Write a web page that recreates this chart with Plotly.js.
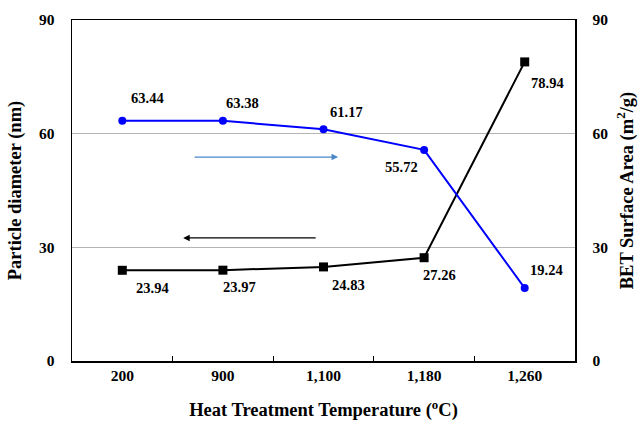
<!DOCTYPE html>
<html>
<head>
<meta charset="utf-8">
<script src="https://cdn.plot.ly/plotly-3.0.1.min.js"></script>
<style>html,body{margin:0;padding:0;background:#fff}#chart{width:638px;height:423px}</style>
</head>
<body>
<div id="chart"></div>
<script>
const categories = ["200", "900", "1,100", "1,180", "1,260"];
const particleDiameter = [23.94, 23.97, 24.83, 27.26, 78.94];
const betSurfaceArea = [63.44, 63.38, 61.17, 55.72, 19.24];
const yTicks = [0, 30, 60, 90];

// label offsets (px) for each point
const diamShift = [[30, -18], [17, -17], [25, -18], [15, -17], [23, -21]];
const betShift = [[25, 23], [20, 18], [23, 17], [-23, -17], [22, 18]];

const font = "Liberation Serif, Times New Roman, serif";

const traces = [
  {
    x: categories, y: particleDiameter, type: "scatter", mode: "lines+markers",
    line: {color: "#000000", width: 2}, marker: {symbol: "square", size: 9, color: "#000000"},
    yaxis: "y", hoverinfo: "skip"
  },
  {
    x: categories, y: betSurfaceArea, type: "scatter", mode: "lines+markers",
    line: {color: "#0000ff", width: 2}, marker: {symbol: "circle", size: 8, color: "#0000ff"},
    yaxis: "y2", hoverinfo: "skip"
  }
];

const annotations = [];
categories.forEach((c, i) => {
  annotations.push({
    x: i, y: particleDiameter[i], xref: "x", yref: "y", text: "<b>" + particleDiameter[i].toFixed(2) + "</b>",
    showarrow: false, xshift: diamShift[i][0], yshift: diamShift[i][1],
    font: {family: font, size: 14.5, color: "#000"}
  });
  annotations.push({
    x: i, y: betSurfaceArea[i], xref: "x", yref: "y2", text: "<b>" + betSurfaceArea[i].toFixed(2) + "</b>",
    showarrow: false, xshift: betShift[i][0], yshift: betShift[i][1],
    font: {family: font, size: 14.5, color: "#000"}
  });
});
// direction arrows
annotations.push({
  xref: "paper", yref: "paper", x: 0.529, y: 0.598, ax: -145, ay: 0, text: "",
  showarrow: true, arrowhead: 2, arrowsize: 1, arrowwidth: 1.3, arrowcolor: "#4a86c8"
});
annotations.push({
  xref: "paper", yref: "paper", x: 0.221, y: 0.361, ax: 134, ay: 0, text: "",
  showarrow: true, arrowhead: 2, arrowsize: 1, arrowwidth: 1.3, arrowcolor: "#000000"
});

const tickFont = {family: font, size: 15.5, color: "#000"};
const layout = {
  width: 638, height: 423,
  margin: {l: 72, r: 63, t: 20, b: 62},
  paper_bgcolor: "#fff", plot_bgcolor: "#fff",
  showlegend: false,
  font: {family: font, color: "#000"},
  xaxis: {
    type: "category", tickson: "boundaries", ticks: "inside", ticklen: 5, tickcolor: "#000",
    showline: true, linecolor: "#000", linewidth: 1.5, mirror: true, showgrid: false,
    tickfont: tickFont, range: [-0.5, 4.5],
    tickvals: categories, ticktext: categories.map(c => "<b>" + c + "</b>"),
    title: {text: "<b>Heat Treatment Temperature (<sup>o</sup>C)</b>", font: {family: font, size: 18.5}, standoff: 20}
  },
  yaxis: {
    range: [0, 90], tickvals: yTicks, ticktext: yTicks.map(v => "<b>" + v + "</b>"),
    ticks: "outside", ticklen: 13, tickcolor: "rgba(0,0,0,0)",
    showline: true, linecolor: "#000", linewidth: 1.5, showgrid: true, gridcolor: "#b4b4b4", gridwidth: 1,
    zeroline: false, tickfont: tickFont,
    title: {text: "<b>Particle diameter (nm)</b>", font: {family: font, size: 18.5}, standoff: 12}
  },
  yaxis2: {
    overlaying: "y", side: "right", range: [0, 90], tickvals: yTicks, ticktext: yTicks.map(v => "<b>" + v + "</b>"),
    ticks: "outside", ticklen: 13, tickcolor: "rgba(0,0,0,0)",
    showline: true, linecolor: "#000", linewidth: 1.5, showgrid: false, zeroline: false, tickfont: tickFont,
    title: {text: "<b>BET Surface Area (m<sup>2</sup>/g)</b>", font: {family: font, size: 18.5}, standoff: 12}
  },
  annotations: annotations
};

Plotly.newPlot("chart", traces, layout, {displayModeBar: false, staticPlot: true});
</script>
</body>
</html>
